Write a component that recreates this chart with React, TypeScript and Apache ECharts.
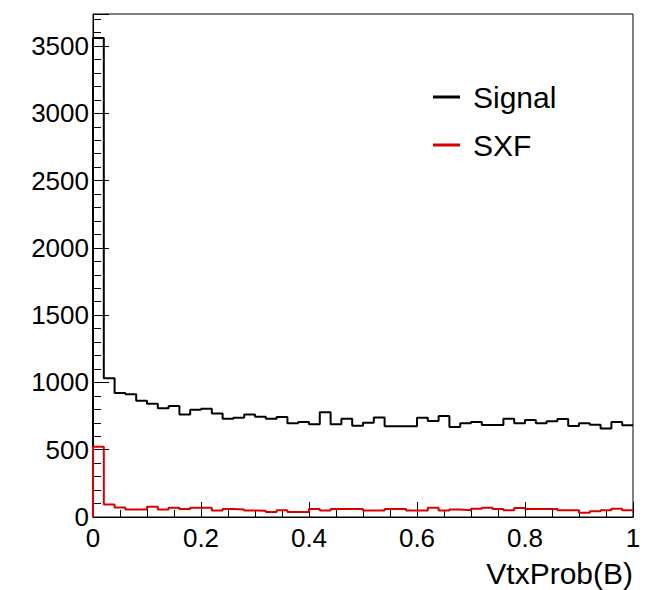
import React, { useEffect, useRef } from "react";
import * as echarts from "echarts";

const xMin = 0;
const xMax = 1;
const binWidth = 0.02;
const yMax = 3738;

const seriesNames = ["Signal", "SXF"];
const seriesColors = ["#000000", "#d90000"];

const signalCounts = [
  3560, 1032, 921, 912, 863, 841, 809, 824, 762, 797,
  804, 770, 730, 738, 762, 745, 730, 743, 696, 706,
  689, 779, 689, 730, 679, 701, 740, 674, 674, 674,
  738, 713, 750, 669, 696, 706, 684, 684, 730, 696,
  721, 696, 711, 728, 676, 696, 686, 657, 706, 682,
];

const sxfCounts = [
  522, 93, 71, 56, 56, 76, 56, 69, 59, 69,
  69, 49, 59, 56, 49, 47, 37, 51, 37, 37,
  59, 49, 59, 59, 59, 49, 49, 59, 59, 49,
  49, 69, 49, 55, 51, 61, 69, 59, 51, 66,
  59, 59, 59, 51, 51, 32, 42, 51, 61, 51,
];

const xAxisTitle = "VtxProb(B)";

function stepData(counts: number[]) {
  const pts: [number, number][] = [[xMin, 0]];
  counts.forEach((v, i) => pts.push([+(xMin + i * binWidth).toFixed(4), v]));
  pts.push([xMax, counts[counts.length - 1]]);
  return pts;
}

const FONT = "Liberation Sans";

export default function App() {
  const ref = useRef<HTMLDivElement>(null);
  useEffect(() => {
    const chart = echarts.init(ref.current!, null, { renderer: "svg" });
    const grid = { left: 93, top: 14, width: 540, height: 503 };
    chart.setOption({
      animation: false,
      backgroundColor: "#ffffff",
      grid: { ...grid, show: true, borderColor: "#000", borderWidth: 1, backgroundColor: "transparent" },
      legend: {
        orient: "vertical",
        left: 428,
        top: 77,
        itemGap: 18,
        itemWidth: 27,
        itemHeight: 3,
        icon: "rect",
        data: seriesNames,
        textStyle: { fontFamily: FONT, fontSize: 30, color: "#000", padding: [0, 0, 0, 8] },
      },
      xAxis: {
        type: "value",
        min: xMin,
        max: xMax,
        interval: 0.2,
        axisLine: { show: true, lineStyle: { color: "#000", width: 1 } },
        axisTick: { show: true, inside: true, length: 15, lineStyle: { color: "#000" } },
        minorTick: { show: true, splitNumber: 4, length: 7, lineStyle: { color: "#000" } },
        splitLine: { show: false },
        axisLabel: { fontFamily: FONT, fontSize: 26, color: "#000", margin: 8 },
      },
      yAxis: {
        type: "value",
        min: 0,
        max: yMax,
        interval: 500,
        axisLine: { show: true, lineStyle: { color: "#000", width: 1 } },
        axisTick: { show: true, inside: true, length: 16, lineStyle: { color: "#000" } },
        minorTick: { show: true, splitNumber: 5, length: 8, lineStyle: { color: "#000" } },
        splitLine: { show: false },
        axisLabel: {
          fontFamily: FONT,
          fontSize: 26,
          color: "#000",
          margin: 4,
          formatter: (v: number) => (v % 500 === 0 ? String(v) : ""),
        },
      },
      graphic: [
        {
          type: "text",
          right: 21,
          top: 558,
          style: { text: xAxisTitle, font: `30px "${FONT}"`, fill: "#000" },
        },
      ],
      series: [
        {
          name: seriesNames[0],
          type: "line",
          step: "end",
          symbol: "none",
          data: stepData(signalCounts),
          lineStyle: { color: seriesColors[0], width: 2 },
          itemStyle: { color: seriesColors[0] },
        },
        {
          name: seriesNames[1],
          type: "line",
          step: "end",
          symbol: "none",
          data: stepData(sxfCounts),
          lineStyle: { color: seriesColors[1], width: 2 },
          itemStyle: { color: seriesColors[1] },
        },
      ],
    });
    return () => chart.dispose();
  }, []);
  return (
    <div
      ref={ref}
      style={{ position: "fixed", left: 0, top: 0, width: 654, height: 590, background: "#fff" }}
    />
  );
}
